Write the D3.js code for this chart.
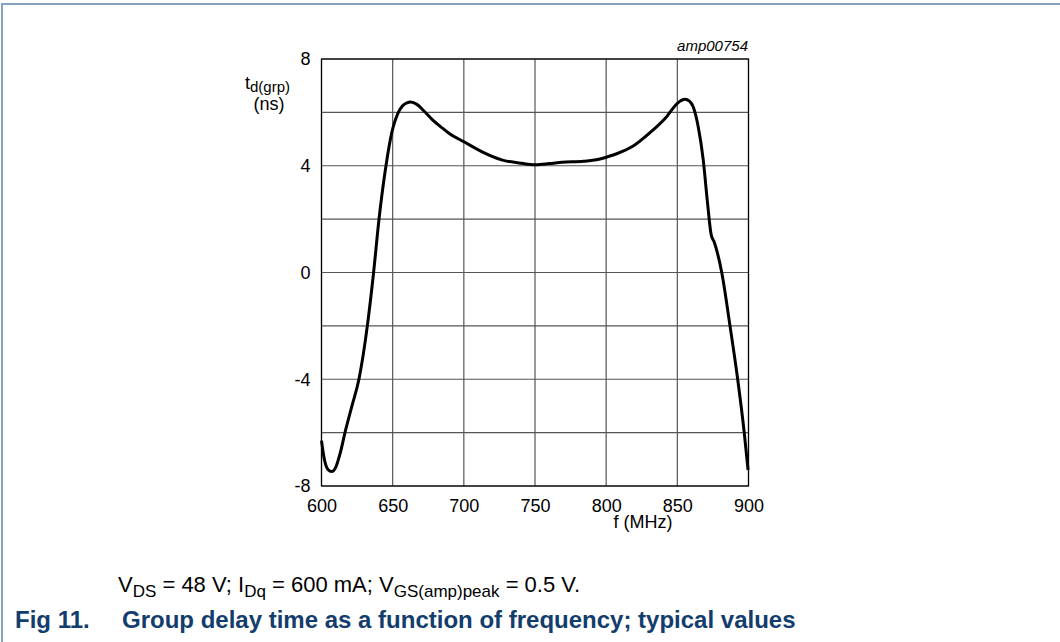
<!DOCTYPE html>
<html><head><meta charset="utf-8">
<script src="https://cdn.jsdelivr.net/npm/d3@7"></script>
<style>
html,body{margin:0;padding:0;background:#fff;}
svg{display:block;font-family:"Liberation Sans",Arial,sans-serif;}
</style></head>
<body>
<svg id="chart" width="1060" height="642"></svg>
<script>
// data
const freq = [600,602,604.5,607.2,610,613,616.5,621.4,626.3,632.2,636.6,640.4,645.3,649.3,654,657,660,662.7,667,672,678,684,690,700,712.5,726.6,740.7,750,760,769,784,795.7,800,807.4,819,830.8,842.5,850,855.4,858.5,861.2,864.7,868.2,871,873.8,875.9,881.2,887,892.4,897,899.7];
const delay = [-6.3,-7.0,-7.38,-7.46,-7.3,-6.8,-6.0,-5.0,-4.0,-2.0,0,2,4,5.22,6.0,6.25,6.36,6.39,6.3,6.05,5.72,5.45,5.2,4.9,4.53,4.22,4.09,4.04,4.08,4.13,4.17,4.25,4.32,4.45,4.74,5.24,5.84,6.34,6.49,6.42,6.2,5.45,4.22,2.72,1.41,1.14,0,-2,-4,-6,-7.4];
const xTicks = [600,650,700,750,800,850,900];
const yGrid = [-8,-6,-4,-2,0,2,4,6,8];
const yLabels = [-8,-4,0,4,8];

const svg = d3.select("#chart");
const x = d3.scaleLinear().domain([600,900]).range([321.5,748.5]);
const y = d3.scaleLinear().domain([-8,8]).range([486,59]);

// page border (top and left)
svg.append("line").attr("x1",2).attr("x2",1060).attr("y1",4).attr("y2",4).attr("stroke","#86a2bd").attr("stroke-width",2);
svg.append("line").attr("x1",2).attr("x2",2).attr("y1",3).attr("y2",642).attr("stroke","#86a2bd").attr("stroke-width",2);

// grid
const g = svg.append("g");
g.selectAll(".vg").data(xTicks).join("line")
  .attr("x1",d=>x(d)).attr("x2",d=>x(d)).attr("y1",y(8)).attr("y2",y(-8))
  .attr("stroke","#555").attr("stroke-width",1.2);
g.selectAll(".hg").data(yGrid).join("line")
  .attr("x1",x(600)).attr("x2",x(900)).attr("y1",d=>y(d)).attr("y2",d=>y(d))
  .attr("stroke","#555").attr("stroke-width",1.2);
g.append("rect").attr("x",x(600)).attr("y",y(8)).attr("width",x(900)-x(600)).attr("height",y(-8)-y(8))
  .attr("fill","none").attr("stroke","#000").attr("stroke-width",1.2);

// axes labels via d3 axes (no lines)
const xAxis = svg.append("g").attr("transform",`translate(0,${y(-8)})`)
  .call(d3.axisBottom(x).tickValues(xTicks).tickSize(0).tickPadding(13).tickFormat(d=>String(d)));
xAxis.select(".domain").remove();
xAxis.selectAll("text").attr("font-size",18).attr("font-family","Liberation Sans, Arial, sans-serif").attr("fill","#000");

const yAxis = svg.append("g").attr("transform",`translate(${x(600)},0)`)
  .call(d3.axisLeft(y).tickValues(yLabels).tickSize(0).tickPadding(11).tickFormat(d=>String(d)));
yAxis.select(".domain").remove();
yAxis.selectAll("text").attr("font-size",18).attr("font-family","Liberation Sans, Arial, sans-serif").attr("fill","#000");

// curve
const line = d3.line().x((d,i)=>x(freq[i])).y((d,i)=>y(delay[i])).curve(d3.curveMonotoneX);
svg.append("path").attr("d",line(freq)).attr("fill","none").attr("stroke","#000").attr("stroke-width",3).attr("stroke-linejoin","round");

// axis titles
svg.append("text").attr("x",643).attr("y",528).attr("text-anchor","middle").attr("font-size",18).text("f (MHz)");
const yt = svg.append("text").attr("x",245).attr("y",89).attr("font-size",18);
yt.append("tspan").text("t");
yt.append("tspan").attr("dy",3).attr("font-size",15).text("d(grp)");
svg.append("text").attr("x",269).attr("y",110).attr("text-anchor","middle").attr("font-size",18).text("(ns)");

svg.append("text").attr("x",748).attr("y",51).attr("text-anchor","end").attr("font-size",15).attr("font-style","italic").text("amp00754");

// captions
const c1 = svg.append("text").attr("x",118).attr("y",592).attr("font-size",22).attr("fill","#000");
c1.append("tspan").text("V");
c1.append("tspan").attr("dy",5).attr("font-size",17).text("DS");
c1.append("tspan").attr("dy",-5).text(" = 48 V; I");
c1.append("tspan").attr("dy",5).attr("font-size",17).text("Dq");
c1.append("tspan").attr("dy",-5).text(" = 600 mA; V");
c1.append("tspan").attr("dy",5).attr("font-size",17).text("GS(amp)peak");
c1.append("tspan").attr("dy",-5).text(" = 0.5 V.");

const c2 = svg.append("text").attr("x",15).attr("y",628).attr("font-size",24).attr("font-weight","bold").attr("fill","#123d6c");
c2.append("tspan").text("Fig 11.");
c2.append("tspan").attr("x",122).text("Group delay time as a function of frequency; typical values");
</script>
</body></html>
